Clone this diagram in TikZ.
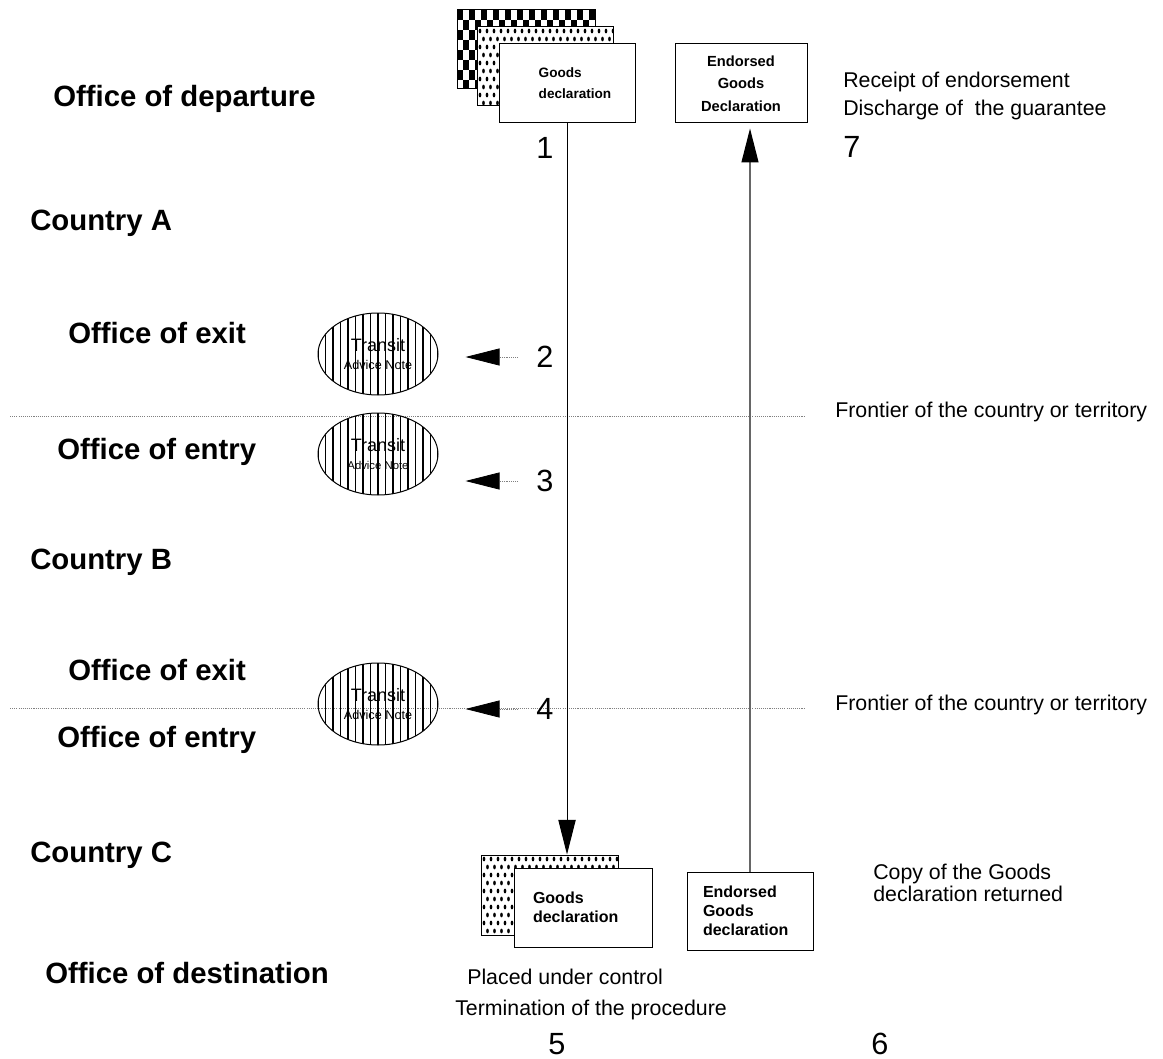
\documentclass[tikz,border=0pt]{standalone}
\usepackage{fontspec}
\setmainfont{Liberation Sans}
\usetikzlibrary{shapes.geometric,arrows.meta}
\begin{document}
\begin{tikzpicture}[x=0.75pt,y=-0.75pt,
  lab/.style={font=\fontsize{22}{26}\selectfont\bfseries,inner sep=0,anchor=west},
  txt/.style={font=\fontsize{16}{19}\selectfont,inner sep=0,anchor=west},
  num/.style={font=\fontsize{23}{26}\selectfont,inner sep=0},
  docbox/.style={draw,fill=white,line width=0.75pt,inner sep=0},
  tan/.style={ellipse,draw,line width=0.75pt,minimum width=120*0.75pt,minimum height=82*0.75pt,inner sep=0,align=center,
    path picture={\foreach \k in {-9,...,9}{\draw[line width=1.25pt] ([xshift=\k*5.625pt]path picture bounding box.north) -- ([xshift=\k*5.625pt]path picture bounding box.south);}}},
  frontier/.style={line width=0.6pt,gray,dash pattern=on 0.8pt off 0.8pt},
  larrow/.style={line width=0.6pt,gray,dash pattern=on 0.8pt off 0.8pt,shorten <=18*0.75pt,shorten >=27*0.75pt,-{Triangle[length=25.5pt,width=12.75pt,color=black]}},
  darrow/.style={line width=0.7pt,-{Triangle[length=26pt,width=13pt]}},
  uarrow/.style={line width=0.9pt,black!60,shorten >=5*0.75pt,-{Triangle[length=25.5pt,width=12.75pt,color=black]}}
]
\useasboundingbox (0,0) rectangle (1163,1059);

% ---------- left labels
\node[lab] (dep) at (53,99) {Office of departure};
\node[lab] (ca) at (30,223) {Country A};
\node[lab] (ex1) at (68,333) {Office of exit};
\node[lab] (en1) at (57,452) {Office of entry};
\node[lab] (cb) at (30,562) {Country B};
\node[lab] (ex2) at (68,670) {Office of exit};
\node[lab] (en2) at (57,740) {Office of entry};
\node[lab] (cc) at (30,855) {Country C};
\node[lab] (dst) at (45,973) {Office of destination};

% ---------- frontier lines
\coordinate (f1a) at (10,416); \coordinate (f1b) at (805,416);
\coordinate (f2a) at (10,708); \coordinate (f2b) at (805,708);
\draw[frontier] (f1a) -- (f1b);
\draw[frontier] (f2a) -- (f2b);

% ---------- top stacked documents
\begin{scope}
\clip (457,10) rectangle (595,89);
\foreach \i in {0,...,23}{\foreach \j in {0,...,8}{
  \pgfmathtruncatemacro{\m}{mod(\i+\j,2)}
  \ifnum\m=0 \fill (457+\i*6,10+\j*10) rectangle ++(6,10);\fi}}
\end{scope}
\node[docbox,fill=none,minimum width=138*0.75pt,minimum height=79*0.75pt] (gdb1) at (526,49.5) {};
\fill[white] (477,27) rectangle (613,106);
\begin{scope}
\clip (477,27) rectangle (613,106);
\foreach \i in {0,...,20}{\foreach \j in {0,...,10}{
  \pgfmathsetmacro{\xx}{480+\i*7+mod(\j,2)*3.5}
  \fill (\xx,31+\j*8) ellipse [x radius=1pt,y radius=1.8pt];}}
\end{scope}
\node[docbox,fill=none,minimum width=136*0.75pt,minimum height=79*0.75pt] (gdm1) at (545,66.5) {};
\node[docbox,minimum width=136*0.75pt,minimum height=79*0.75pt,font=\fontsize{10.2}{16}\selectfont\bfseries] (gd1) at (567,83.5)
  {\hspace*{12pt}\begin{tabular}{@{}l@{}}Goods\\declaration\end{tabular}};

\node[docbox,minimum width=132*0.75pt,minimum height=79*0.75pt,align=center,font=\fontsize{11}{17}\selectfont\bfseries] (egd1) at (741,83.5)
  {Endorsed\\Goods\\Declaration};

% ---------- bottom documents
\fill[white] (481,855) rectangle (618,935);
\begin{scope}
\clip (481,855) rectangle (618,935);
\foreach \i in {0,...,20}{\foreach \j in {0,...,10}{
  \pgfmathsetmacro{\xx}{484+\i*7+mod(\j,2)*3.5}
  \fill (\xx,859+\j*8) ellipse [x radius=1pt,y radius=1.8pt];}}
\end{scope}
\node[docbox,fill=none,minimum width=137*0.75pt,minimum height=80*0.75pt] (gdb5) at (549.5,895) {};
\node[docbox,minimum width=138*0.75pt,minimum height=79*0.75pt,text width=100*0.75pt,align=left,font=\fontsize{12}{14.25}\selectfont\bfseries] (gd5) at (583,907.5)
  {Goods\\declaration};
\node[docbox,minimum width=126*0.75pt,minimum height=78*0.75pt,text width=94*0.75pt,align=left,font=\fontsize{12}{14.25}\selectfont\bfseries] (egd6) at (750,911)
  {Endorsed\\Goods\\declaration};

% ---------- transit advice notes
\node[tan] (e1) at (378,354) {\fontsize{13.5}{15}\selectfont Transit\\[2pt]\fontsize{9.5}{11}\selectfont Advice Note};
\node[tan] (e2) at (378,454) {\fontsize{13.5}{15}\selectfont Transit\\[2pt]\fontsize{8.5}{10}\selectfont Advice Note};
\node[tan] (e3) at (378,704) {\fontsize{13.5}{15}\selectfont Transit\\[2pt]\fontsize{9.5}{11}\selectfont Advice Note};

% ---------- numbers
\node[num] (n1) at (545,148) {1};
\node[num] (n2) at (545,357) {2};
\node[num] (n3) at (545,481) {3};
\node[num] (n4) at (545,709) {4};
\node[num] (n5) at (557,1044) {5};
\node[num] (n6) at (880,1044) {6};
\node[num,anchor=west] (n7) at (843,147) {7};

% ---------- right and bottom texts
\node[txt] (rec) at (843,82) {Receipt of endorsement};
\node[txt] (dis) at (843,110) {Discharge of\ \ the guarantee};
\node[txt] (fr1) at (835,412) {Frontier of the country or territory};
\node[txt] (fr2) at (835,705) {Frontier of the country or territory};
\node[txt,align=left,font=\fontsize{16}{17}\selectfont] (copy) at (873,883) {Copy of the Goods\\declaration returned};
\node[txt] (plc) at (467,977) {Placed under control};
\node[txt] (trm) at (455,1010) {Termination of the procedure};

% ---------- connectors
\draw[darrow] (gd1.south) -- (gd1.south |- gdb5.north);
\draw[uarrow] (egd6.north) -- (egd6.north |- egd1.south);
\draw[larrow] (n2.west) -- (n2.west -| e1.east);
\draw[larrow] (n3.west) -- (n3.west -| e2.east);
\draw[larrow] (n4.west) -- (n4.west -| e3.east);
\end{tikzpicture}
\end{document}
